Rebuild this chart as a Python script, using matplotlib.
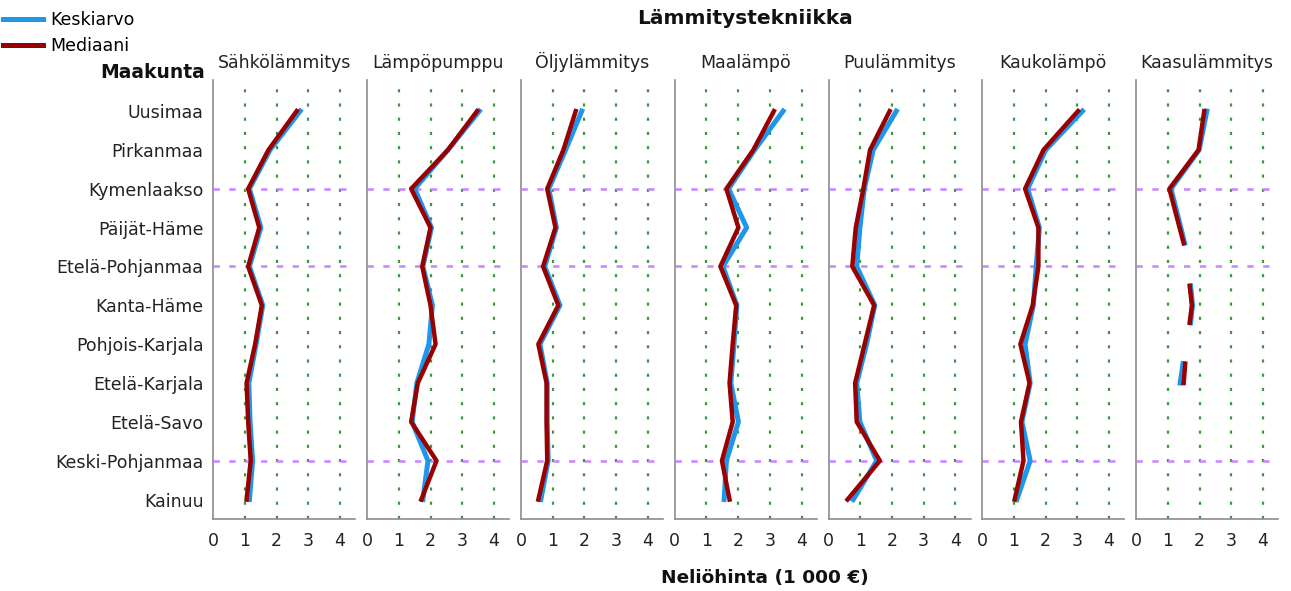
import matplotlib
matplotlib.use("Agg")
import matplotlib.pyplot as plt
from matplotlib.lines import Line2D

# Maakunnat (rivit ylhäältä alas)
regions = ["Uusimaa", "Pirkanmaa", "Kymenlaakso", "Päijät-Häme", "Etelä-Pohjanmaa",
           "Kanta-Häme", "Pohjois-Karjala", "Etelä-Karjala", "Etelä-Savo",
           "Keski-Pohjanmaa", "Kainuu"]
highlight_rows = ["Kymenlaakso", "Etelä-Pohjanmaa", "Keski-Pohjanmaa"]

panels = ["Sähkölämmitys", "Lämpöpumppu", "Öljylämmitys", "Maalämpö",
          "Puulämmitys", "Kaukolämpö", "Kaasulämmitys"]

# neliöhinta, 1 000 €
sahko_mean = [2.74, 1.79, 1.14, 1.50, 1.14, 1.56, 1.35, 1.12, 1.16, 1.24, 1.14]
sahko_median = [2.63, 1.74, 1.10, 1.45, 1.10, 1.53, 1.32, 1.05, 1.10, 1.18, 1.05]

pumppu_mean = [3.54, 2.55, 1.50, 2.03, 1.76, 2.06, 1.95, 1.57, 1.42, 1.92, 1.76]
pumppu_median = [3.47, 2.55, 1.39, 2.00, 1.74, 2.00, 2.16, 1.60, 1.39, 2.19, 1.71]

oljy_mean = [1.92, 1.41, 0.88, 1.12, 0.75, 1.23, 0.60, 0.83, 0.83, 0.86, 0.63]
oljy_median = [1.73, 1.34, 0.83, 1.09, 0.70, 1.18, 0.55, 0.81, 0.81, 0.83, 0.55]

maa_mean = [3.42, 2.52, 1.70, 2.27, 1.52, 1.96, 1.87, 1.77, 2.01, 1.63, 1.56]
maa_median = [3.13, 2.48, 1.63, 2.01, 1.44, 1.94, 1.83, 1.73, 1.83, 1.49, 1.73]

puu_mean = [2.14, 1.41, 1.13, 0.99, 0.89, 1.46, 1.20, 0.89, 0.99, 1.52, 0.78]
puu_median = [1.93, 1.31, 1.10, 0.86, 0.75, 1.44, 1.14, 0.84, 0.89, 1.62, 0.60]

kauko_mean = [3.16, 2.00, 1.43, 1.80, 1.70, 1.61, 1.35, 1.51, 1.25, 1.51, 1.09]
kauko_median = [3.02, 1.93, 1.35, 1.77, 1.77, 1.59, 1.20, 1.49, 1.22, 1.30, 1.02]

# Kaasulämmitys: katkonainen sarja (rivipaikka, arvo) -palasina
kaasu_pos = [[0, 1, 2, 3, 3.4], [4.5, 5, 5.45], [6.5, 7]]
kaasu_mean = [[2.23, 1.99, 1.10, 1.41, 1.53], [1.72, 1.78, 1.72], [1.48, 1.39]]
kaasu_median = [[2.15, 1.97, 1.05, 1.37, 1.50], [1.69, 1.76, 1.69], [1.55, 1.50]]

xticks = [0, 1, 2, 3, 4]

BLUE = "#1e96ec"
RED = "#990000"
GREEN = "#3c963c"
PURPLE = "#c78bff"
SPINE = "#8c8c8c"

W, H = 1291, 591
fig = plt.figure(figsize=(W / 100, H / 100), dpi=100)
plt.rcParams["font.family"] = ["DejaVu Sans"]

x0_px, step_px, width_px = 213.3, 153.8, 142
top_px, bottom_px = 80, 519
LABEL_FS = 12.5

series = [
    ([list(range(len(regions)))], [sahko_mean], [sahko_median]),
    ([list(range(len(regions)))], [pumppu_mean], [pumppu_median]),
    ([list(range(len(regions)))], [oljy_mean], [oljy_median]),
    ([list(range(len(regions)))], [maa_mean], [maa_median]),
    ([list(range(len(regions)))], [puu_mean], [puu_median]),
    ([list(range(len(regions)))], [kauko_mean], [kauko_median]),
    (kaasu_pos, kaasu_mean, kaasu_median),
]

for i, (name, (pos_list, means, medians)) in enumerate(zip(panels, series)):
    left = x0_px + step_px * i
    ax = fig.add_axes([left / W, 1 - bottom_px / H, width_px / W, (bottom_px - top_px) / H])
    ax.set_xlim(0, width_px / 31.7)
    ax.set_ylim(10.5, -0.8)

    for x in xticks[1:]:
        ax.axvline(x, color=GREEN, lw=1.6, ls=(0, (1.4, 5.0)), zorder=1)
    for r in highlight_rows:
        ax.axhline(regions.index(r), color=PURPLE, lw=1.9, ls=(0, (2.4, 3.6)), zorder=1)

    for pos, m, md in zip(pos_list, means, medians):
        ax.plot(m, pos, color=BLUE, lw=3.6, solid_joinstyle="round", zorder=3)
        ax.plot(md, pos, color=RED, lw=3.2, solid_joinstyle="round", zorder=4)

    for s in ("top", "right"):
        ax.spines[s].set_visible(False)
    for s in ("left", "bottom"):
        ax.spines[s].set_color(SPINE)
        ax.spines[s].set_linewidth(1.2)

    ax.set_xticks(xticks)
    ax.tick_params(axis="x", length=0, pad=9, labelsize=LABEL_FS, colors="#222222")
    ax.set_yticks(range(len(regions)))
    if i == 0:
        ax.set_yticklabels(regions)
        ax.tick_params(axis="y", length=0, pad=7, labelsize=LABEL_FS, colors="#222222")
    else:
        ax.set_yticklabels([])
        ax.tick_params(axis="y", length=0)
    ax.set_title(name, fontsize=LABEL_FS, pad=9, color="#222222")

fig.text(745 / W, 1 - 19 / H, "Lämmitystekniikka", ha="center", va="center",
         fontsize=14.5, fontweight="bold", color="#111111")
fig.text(205 / W, 1 - 72 / H, "Maakunta", ha="right", va="center",
         fontsize=13.5, fontweight="bold", color="#111111")
fig.text(765 / W, 1 - 578 / H, "Neliöhinta (1 000 €)", ha="center", va="center",
         fontsize=13.3, fontweight="bold", color="#111111")

handles = [Line2D([], [], color=BLUE, lw=3.6), Line2D([], [], color=RED, lw=3.6)]
fig.legend(handles, ["Keskiarvo", "Mediaani"], loc="upper left",
           bbox_to_anchor=(3 / W, 1 - 11 / H), frameon=False, fontsize=12.5,
           handlelength=2.3, handletextpad=0.4, labelspacing=0.45,
           borderaxespad=0, borderpad=0.0)

fig.savefig("out.png", dpi=100, facecolor="white")
